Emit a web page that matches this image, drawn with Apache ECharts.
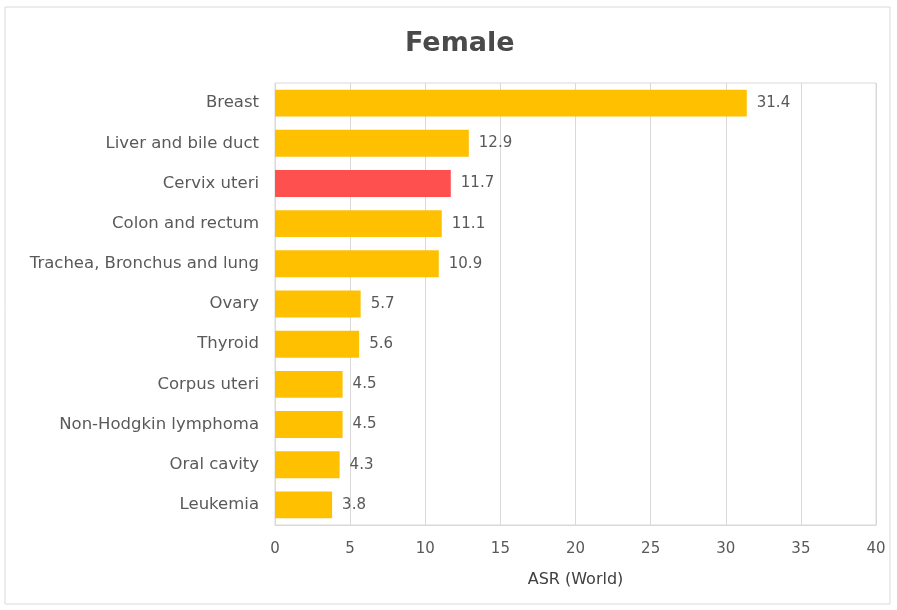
<!DOCTYPE html>
<html><head><meta charset="utf-8">
<script src="https://cdn.jsdelivr.net/npm/echarts@6/dist/echarts.min.js"></script>
<style>html,body{margin:0;padding:0;background:#fff}#c{width:897px;height:610px}</style>
</head><body><div id="c"></div>
<script>
const categories = ["Breast","Liver and bile duct","Cervix uteri","Colon and rectum","Trachea, Bronchus and lung","Ovary","Thyroid","Corpus uteri","Non-Hodgkin lymphoma","Oral cavity","Leukemia"];
const values = [31.4,12.9,11.7,11.1,10.9,5.7,5.6,4.5,4.5,4.3,3.8];
const highlight = "Cervix uteri";
const xTicks = [0,5,10,15,20,25,30,35,40];
const FONT = "'DejaVu Sans', sans-serif";
const chart = echarts.init(document.getElementById('c'));
chart.setOption({
  animation:false,
  backgroundColor:'#fff',
  graphic:[{type:'rect',shape:{x:5,y:7,width:885,height:597},style:{fill:'none',stroke:'#d9d9d9',lineWidth:1}}],
  title:{text:'Female',left:400,top:25,textStyle:{fontFamily:FONT,fontSize:27,fontWeight:'bold',color:'#4a4a4a'}},
  grid:{left:275,right:21,top:83,bottom:85,show:true,borderColor:'#d9d9d9',borderWidth:1},
  xAxis:{type:'value',min:xTicks[0],max:xTicks[xTicks.length-1],interval:5,
    name:'ASR (World)',nameLocation:'middle',nameGap:47,
    nameTextStyle:{fontFamily:FONT,fontSize:16,color:'#404040'},
    axisLine:{show:true,lineStyle:{color:'#d9d9d9'}},axisTick:{show:false},
    axisLabel:{fontFamily:FONT,fontSize:15,color:'#595959',margin:17},
    splitLine:{lineStyle:{color:'#d9d9d9'}}},
  yAxis:{type:'category',data:categories,inverse:true,
    axisLine:{show:false},axisTick:{show:false},
    axisLabel:{fontFamily:FONT,fontSize:16.5,color:'#595959',margin:16}},
  series:[{type:'bar',barCategoryGap:'33%',
    data:categories.map((c,i)=>({value:values[i],itemStyle:{color:c===highlight?'#FF5050':'#FFC000'}})),
    label:{show:true,position:'right',distance:10,fontFamily:FONT,fontSize:15,color:'#595959'}}]
});
</script></body></html>
